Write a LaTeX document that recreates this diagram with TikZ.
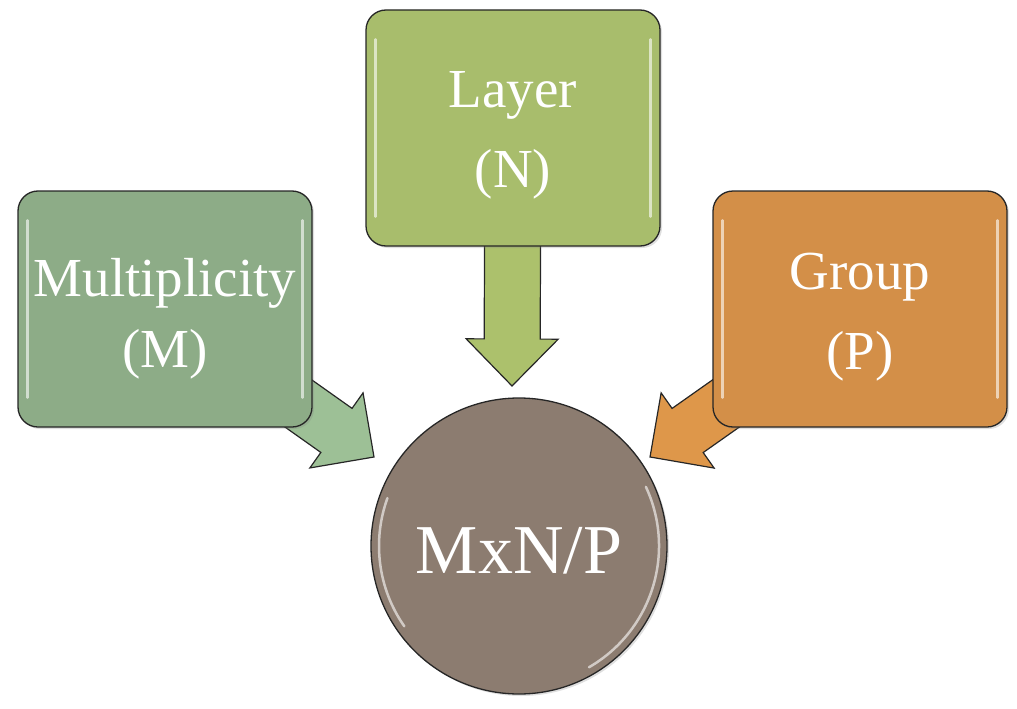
\documentclass[tikz,border=0pt]{standalone}
\usepackage{fontspec}
\setmainfont{Liberation Serif}
\usetikzlibrary{calc,backgrounds,shadows}

\definecolor{multgreen}{RGB}{141,172,135}
\definecolor{layerlime}{RGB}{168,189,108}
\definecolor{grouporange}{RGB}{211,143,72}
\definecolor{resultbrown}{RGB}{140,124,112}
\definecolor{multarrow}{RGB}{157,192,150}
\definecolor{layerarrow}{RGB}{172,193,108}
\definecolor{grouparrow}{RGB}{222,151,74}

\begin{document}
\begin{tikzpicture}[x=1pt, y=-1pt]
    \tikzstyle{box_style}=[draw=black!85, line width=1.3pt, rounded corners=20pt, minimum width=294pt, minimum height=236pt, text=white, align=center, font=\fontsize{55}{80}\selectfont, drop shadow={shadow xshift=2pt, shadow yshift=-2pt, opacity=0.25}]
    \tikzstyle{gloss}=[white, line width=2.5pt, opacity=0.6, line cap=round]
    \tikzstyle{arrow_edge}=[draw=black!85, line width=1.2pt, line join=miter]

    \useasboundingbox (0,0) rectangle (1017,709);

    % --- boxes ---
    \node[box_style, fill=multgreen, font=\fontsize{55}{71}\selectfont, text height=128pt] (mult) at (165,309) {Multiplicity\\(M)};
    \node[box_style, fill=layerlime, text height=130pt] (layer) at (513,128) {Layer\\(N)};
    \node[box_style, fill=grouporange, text height=133pt] (group) at (860,309) {Group\\(P)};
    \draw[gloss] ([xshift=10pt, yshift=-30pt]mult.north west) -- ([xshift=10pt, yshift=30pt]mult.south west);
    \draw[gloss] ([xshift=-10pt, yshift=-30pt]mult.north east) -- ([xshift=-10pt, yshift=30pt]mult.south east);
    \draw[gloss] ([xshift=10pt, yshift=-30pt]layer.north west) -- ([xshift=10pt, yshift=30pt]layer.south west);
    \draw[gloss] ([xshift=-10pt, yshift=-30pt]layer.north east) -- ([xshift=-10pt, yshift=30pt]layer.south east);
    \draw[gloss] ([xshift=10pt, yshift=-30pt]group.north west) -- ([xshift=10pt, yshift=30pt]group.south west);
    \draw[gloss] ([xshift=-10pt, yshift=-30pt]group.north east) -- ([xshift=-10pt, yshift=30pt]group.south east);

    % --- result ---
    \node[circle, draw=black!85, line width=1.3pt, fill=resultbrown, minimum size=296pt, text=white, font=\fontsize{70}{80}\selectfont, text height=56pt, drop shadow={shadow xshift=2pt, shadow yshift=-2pt, opacity=0.25}] (res) at (519,546) {MxN/P};
    \draw[gloss] (res) ++(60:140) arc[start angle=60, end angle=-25, radius=140];
    \draw[gloss] (res) ++(145:140) arc[start angle=145, end angle=200, radius=140];

    % --- arrows ---
    \coordinate (tipM) at (374,457);
    \coordinate (tipN) at (512,386);
    \coordinate (tipP) at (650,457);
    \begin{scope}[on background layer]
      \path let \p1=(mult), \p2=(tipM), \n1={atan2(\y2-\y1,\x2-\x1)}, \n2={veclen(\x2-\x1,\y2-\y1)} in
        [arrow_edge, fill=multarrow, shift={(\p1)}, rotate=\n1]
        (0,-27) -- (\n2-46,-27) -- (\n2-46,-46) -- (\n2,0) -- (\n2-46,46) -- (\n2-46,27) -- (0,27) -- cycle;
      \path let \p1=(layer), \p2=(tipN), \n1={atan2(\y2-\y1,\x2-\x1)}, \n2={veclen(\x2-\x1,\y2-\y1)} in
        [arrow_edge, fill=layerarrow, shift={(\p1)}, rotate=\n1]
        (0,-28) -- (\n2-47,-28) -- (\n2-47,-46) -- (\n2,0) -- (\n2-47,46) -- (\n2-47,28) -- (0,28) -- cycle;
      \path let \p1=(group), \p2=(tipP), \n1={atan2(\y2-\y1,\x2-\x1)}, \n2={veclen(\x2-\x1,\y2-\y1)} in
        [arrow_edge, fill=grouparrow, shift={(\p1)}, rotate=\n1]
        (0,-27) -- (\n2-46,-27) -- (\n2-46,-46) -- (\n2,0) -- (\n2-46,46) -- (\n2-46,27) -- (0,27) -- cycle;
    \end{scope}
\end{tikzpicture}
\end{document}
